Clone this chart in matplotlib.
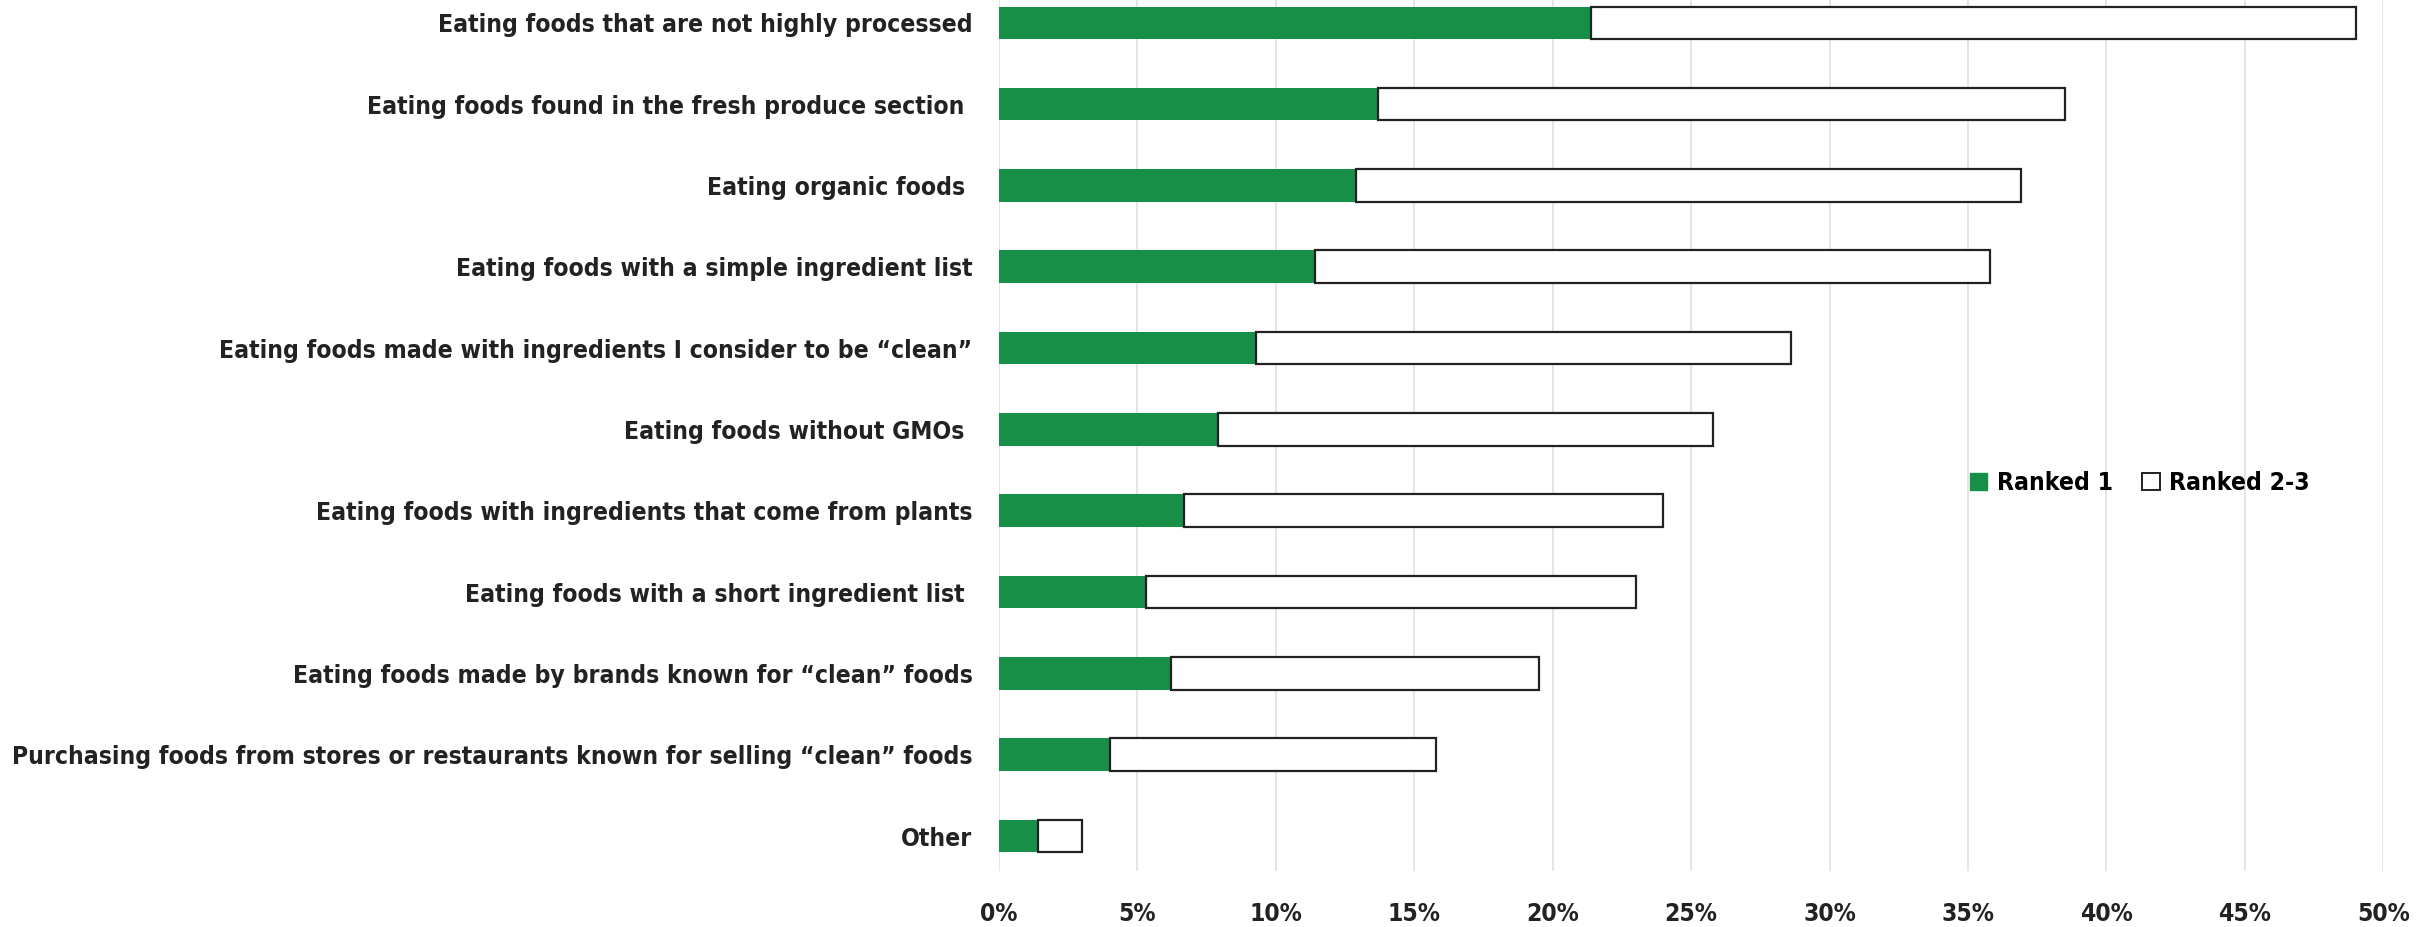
import matplotlib.pyplot as plt
from matplotlib.patches import Patch

categories = [
    'Eating foods that are not highly processed',
    'Eating foods found in the fresh produce section ',
    'Eating organic foods ',
    'Eating foods with a simple ingredient list',
    'Eating foods made with ingredients I consider to be \u201cclean\u201d',
    'Eating foods without GMOs ',
    'Eating foods with ingredients that come from plants',
    'Eating foods with a short ingredient list ',
    'Eating foods made by brands known for \u201cclean\u201d foods',
    'Purchasing foods from stores or restaurants known for selling \u201cclean\u201d foods',
    'Other',
]
ranked_1 = [21.4, 13.7, 12.9, 11.4, 9.3, 7.9, 6.7, 5.3, 6.2, 4.0, 1.4]
ranked_total = [49.0, 38.5, 36.9, 35.8, 28.6, 25.8, 24.0, 23.0, 19.5, 15.8, 3.0]
ranked_23 = [t - r for t, r in zip(ranked_total, ranked_1)]
xticks = [0, 5, 10, 15, 20, 25, 30, 35, 40, 45, 50]

green = '#178f47'
plt.rcParams['font.family'] = ['DejaVu Sans']
plt.rcParams['font.stretch'] = 'condensed'

fig = plt.figure(figsize=(24.27, 9.27), dpi=100)
ax = fig.add_axes([0.4116, 1 - 871 / 927, 0.982 - 0.4116, 871 / 927])

y = list(range(len(categories)))
ax.barh(y, ranked_1, height=0.4, color=green, zorder=3)
ax.barh(y, ranked_23, left=ranked_1, height=0.4, color='white',
        edgecolor='#222222', linewidth=1.6, zorder=3)

ax.set_ylim(10.43, -0.28)
ax.set_xlim(0, 50)
ax.set_xticks(xticks)
ax.set_xticklabels([f'{v}%' for v in xticks])
ax.set_yticks(y)
ax.set_yticklabels(categories)
ax.tick_params(axis='both', length=0, labelsize=17.7, colors='#222222')
ax.tick_params(axis='y', pad=19)
ax.tick_params(axis='x', pad=22)
for lab in ax.get_yticklabels() + ax.get_xticklabels():
    lab.set_fontweight('bold')
ax.grid(axis='x', color='#e0e0e0', linewidth=1.2, zorder=0)
for s in ax.spines.values():
    s.set_visible(False)

handles = [Patch(facecolor=green, edgecolor=green),
           Patch(facecolor='white', edgecolor='#222222', linewidth=1.4)]
fig.legend(handles, ['Ranked 1', 'Ranked 2-3'], loc='center',
           bbox_to_anchor=(2140 / 2427, 1 - 483 / 927), ncol=2, frameon=False,
           handlelength=0.7, handleheight=0.7, handletextpad=0.4,
           columnspacing=1.2, prop={'size': 17.7, 'weight': 'bold', 'stretch': 'condensed'})

fig.savefig('out.png', dpi=100)
